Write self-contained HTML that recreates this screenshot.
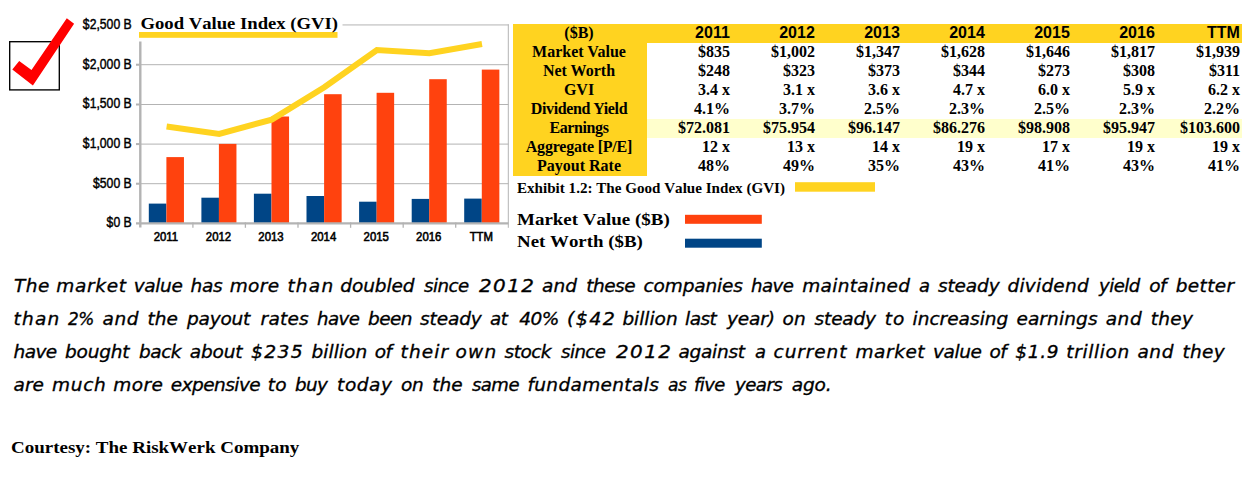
<!DOCTYPE html>
<html><head><meta charset="utf-8">
<style>
html,body{margin:0;padding:0;background:#fff;}
body{width:1251px;height:492px;position:relative;overflow:hidden;font-family:"Liberation Serif",serif;color:#000;}
.abs{position:absolute;white-space:nowrap;}
#chart{position:absolute;left:0;top:0;}
#chart text{font-family:"Liberation Sans",sans-serif;font-weight:normal;stroke:#000;stroke-width:0.45px;font-size:12px;fill:#000;}
table{position:absolute;left:513px;top:24px;border-collapse:collapse;table-layout:fixed;width:729px;font-family:"Liberation Serif",serif;font-weight:bold;font-size:16px;}
td{height:17.4px;padding:0 2px 1.6px 0;line-height:17.4px;text-align:right;overflow:hidden;white-space:nowrap;}
td.l{background:#ffd320;text-align:center;padding:0 2px 1.6px 0;}
tr.h td{background:#ffd320;font-family:"Liberation Sans",sans-serif;font-size:16px;padding-right:2.2px;}
tr.h td.l{font-family:"Liberation Serif",serif;padding-right:2px;}
tr.e td{background:#ffffcc;}
tr.e td.l{background:#ffd320;}
.hw{position:absolute;left:0;width:1251px;height:21px;font-family:"DejaVu Sans",sans-serif;font-style:oblique;font-size:18.5px;line-height:21px;-webkit-text-stroke:0.35px #000;}
.hw span{position:absolute;top:0;white-space:nowrap;transform-origin:0 0;}
</style></head><body>
<svg id="chart" width="700" height="260" viewBox="0 0 700 260">
  <!-- gridlines -->
  <g stroke="#b3b3b3" stroke-width="1" fill="none">
    <line x1="140" y1="24.95" x2="508.5" y2="24.95"/>
    <line x1="136" y1="64.7" x2="508.5" y2="64.7"/>
    <line x1="136" y1="104.5" x2="508.5" y2="104.5"/>
    <line x1="136" y1="144.1" x2="508.5" y2="144.1"/>
    <line x1="136" y1="183.7" x2="508.5" y2="183.7"/>
    <line x1="508.3" y1="24.2" x2="508.3" y2="227.8"/>
  </g>
  <!-- bars -->
  <g fill="#004586">
    <rect x="148.8" y="203.6" width="17.55" height="19.7"/>
    <rect x="201.4" y="197.7" width="17.55" height="25.6"/>
    <rect x="253.9" y="193.7" width="17.55" height="29.6"/>
    <rect x="306.5" y="196.0" width="17.55" height="27.3"/>
    <rect x="359.1" y="201.7" width="17.55" height="21.6"/>
    <rect x="411.7" y="198.9" width="17.55" height="24.4"/>
    <rect x="464.2" y="198.6" width="17.55" height="24.7"/>
  </g>
  <g fill="#ff420e">
    <rect x="166.4" y="157.1" width="17.55" height="66.2"/>
    <rect x="218.9" y="143.9" width="17.55" height="79.4"/>
    <rect x="271.5" y="116.5" width="17.55" height="106.8"/>
    <rect x="324.1" y="94.2" width="17.55" height="129.1"/>
    <rect x="376.6" y="92.8" width="17.55" height="130.5"/>
    <rect x="429.2" y="79.2" width="17.55" height="144.1"/>
    <rect x="481.8" y="69.6" width="17.55" height="153.7"/>
  </g>
  <!-- axes -->
  <g stroke="#b3b3b3" fill="none">
    <line x1="140.3" y1="24" x2="140.3" y2="227.5" stroke-width="2.4"/>
    <line x1="136" y1="223.4" x2="508.5" y2="223.4" stroke-width="2.4"/>
    <g stroke-width="1.3">
      <line x1="192.9" y1="222.4" x2="192.9" y2="227.8"/>
      <line x1="245.4" y1="222.4" x2="245.4" y2="227.8"/>
      <line x1="298.0" y1="222.4" x2="298.0" y2="227.8"/>
      <line x1="350.6" y1="222.4" x2="350.6" y2="227.8"/>
      <line x1="403.2" y1="222.4" x2="403.2" y2="227.8"/>
      <line x1="455.7" y1="222.4" x2="455.7" y2="227.8"/>
    </g>
    <g stroke-width="2">
      <line x1="136" y1="64.7" x2="140" y2="64.7"/>
      <line x1="136" y1="104.5" x2="140" y2="104.5"/>
      <line x1="136" y1="144.1" x2="140" y2="144.1"/>
      <line x1="136" y1="183.7" x2="140" y2="183.7"/>
    </g>
  </g>
  <!-- GVI line -->
  <polyline fill="none" stroke="#ffd320" stroke-width="6.1" stroke-linejoin="miter" points="166.6,126.6 219.2,134.0 271.7,119.6 324.3,87.3 376.9,50.0 429.4,53.3 482.0,44.0"/>
  <!-- title cover -->
  <rect x="138.5" y="8" width="204" height="33.5" fill="#fff"/>
  <rect x="139" y="32" width="198.5" height="5.8" fill="#ffd320"/>
  <text x="140.5" y="29.3" style="font-family:'Liberation Serif',serif;font-size:17.33px;font-kerning:none;font-weight:bold;stroke:none" textLength="197.5" lengthAdjust="spacingAndGlyphs">Good Value Index (GVI)</text>
  <!-- y labels -->
  <g text-anchor="end">
    <text transform="translate(131.7,29.0) scale(0.872,1)" style="font-size:14px">$2,500 B</text>
    <text transform="translate(131.7,68.8) scale(0.872,1)" style="font-size:14px">$2,000 B</text>
    <text transform="translate(131.7,108.4) scale(0.872,1)" style="font-size:14px">$1,500 B</text>
    <text transform="translate(131.7,148.1) scale(0.872,1)" style="font-size:14px">$1,000 B</text>
    <text transform="translate(131.7,187.8) scale(0.872,1)" style="font-size:14px">$500 B</text>
    <text transform="translate(131.7,227.4) scale(0.872,1)" style="font-size:14px">$0 B</text>
  </g>
  <g text-anchor="middle">
    <text transform="translate(165.9,241) scale(0.91,1)" style="font-size:12.5px;stroke-width:0.6px">2011</text>
    <text transform="translate(218.5,241) scale(0.91,1)" style="font-size:12.5px;stroke-width:0.6px">2012</text>
    <text transform="translate(271.0,241) scale(0.91,1)" style="font-size:12.5px;stroke-width:0.6px">2013</text>
    <text transform="translate(323.6,241) scale(0.91,1)" style="font-size:12.5px;stroke-width:0.6px">2014</text>
    <text transform="translate(376.2,241) scale(0.91,1)" style="font-size:12.5px;stroke-width:0.6px">2015</text>
    <text transform="translate(428.7,241) scale(0.91,1)" style="font-size:12.5px;stroke-width:0.6px">2016</text>
    <text transform="translate(481.3,241) scale(0.91,1)" style="font-size:12.5px;stroke-width:0.6px">TTM</text>
  </g>
  <!-- checkbox -->
  <rect x="9.7" y="41.7" width="49.6" height="48.2" fill="#fff" stroke="#000" stroke-width="1.35"/>
  <polygon fill="#ff0000" points="66.8,18.2 74.1,23.7 32.9,85.5 12.3,69.4 19.2,60.9 31.5,70.0"/>
</svg>
<svg class="abs" style="left:680px;top:210px" width="100" height="45"><rect x="5" y="4.8" width="76.8" height="9" fill="#ff420e"/><rect x="5" y="28.7" width="76.8" height="9" fill="#004586"/></svg>
<svg class="abs" style="left:790px;top:178px" width="100" height="20"><rect x="5" y="4.2" width="80" height="9.5" fill="#ffd320"/></svg>

<table>
<colgroup><col style="width:134px"><col style="width:85px"><col style="width:85px"><col style="width:85px"><col style="width:85px"><col style="width:85px"><col style="width:85px"><col style="width:85px"></colgroup>
<tr class="h"><td class="l">($B)</td><td>2011</td><td>2012</td><td>2013</td><td>2014</td><td>2015</td><td>2016</td><td>TTM</td></tr>
<tr><td class="l">Market Value</td><td>$835</td><td>$1,002</td><td>$1,347</td><td>$1,628</td><td>$1,646</td><td>$1,817</td><td>$1,939</td></tr>
<tr><td class="l">Net Worth</td><td>$248</td><td>$323</td><td>$373</td><td>$344</td><td>$273</td><td>$308</td><td>$311</td></tr>
<tr><td class="l">GVI</td><td>3.4 x</td><td>3.1 x</td><td>3.6 x</td><td>4.7 x</td><td>6.0 x</td><td>5.9 x</td><td>6.2 x</td></tr>
<tr><td class="l" style="letter-spacing:-0.36px">Dividend Yield</td><td>4.1%</td><td>3.7%</td><td>2.5%</td><td>2.3%</td><td>2.5%</td><td>2.3%</td><td>2.2%</td></tr>
<tr class="e"><td class="l" style="letter-spacing:-0.4px">Earnings</td><td>$72.081</td><td>$75.954</td><td>$96.147</td><td>$86.276</td><td>$98.908</td><td>$95.947</td><td>$103.600</td></tr>
<tr><td class="l" style="letter-spacing:-0.2px">Aggregate [P/E]</td><td>12 x</td><td>13 x</td><td>14 x</td><td>19 x</td><td>17 x</td><td>19 x</td><td>19 x</td></tr>
<tr><td class="l">Payout Rate</td><td>48%</td><td>49%</td><td>35%</td><td>43%</td><td>41%</td><td>43%</td><td>41%</td></tr>
</table>

<div class="abs" id="exh" style="left:516.8px;top:177.6px;font-weight:bold;font-size:14.1px;line-height:20px;font-kerning:none;transform:scaleX(1.0711);transform-origin:0 0;">Exhibit 1.2: The Good Value Index (GVI)</div>
<div class="abs" id="lg1" style="left:516.9px;top:208.4px;font-weight:bold;font-size:17.33px;line-height:24px;font-kerning:none;transform:scaleX(1.0948);transform-origin:0 0;">Market Value ($B)</div>
<div class="abs" id="lg2" style="left:516.9px;top:230.0px;font-weight:bold;font-size:17.33px;line-height:24px;font-kerning:none;transform:scaleX(1.09);transform-origin:0 0;">Net Worth ($B)</div>

<div class="hw" id="p1" style="top:275.4px;"><span style="left:14.1px;letter-spacing:0.40px">The</span> <span style="left:56.3px;letter-spacing:0.70px">market</span> <span style="left:133.8px;letter-spacing:-0.38px">value</span> <span style="left:190.6px;letter-spacing:-0.30px">has</span> <span style="left:229.7px;letter-spacing:0.37px">more</span> <span style="left:287.4px;letter-spacing:1.23px">than</span> <span style="left:340.3px;letter-spacing:-0.08px">doubled</span> <span style="left:424.0px;letter-spacing:-0.55px;transform:scaleX(0.983)">since</span> <span style="left:478.7px;letter-spacing:1.30px;transform:scaleX(1.076)">2012</span> <span style="left:542.0px;letter-spacing:0.15px">and</span> <span style="left:586.2px;letter-spacing:-0.48px">these</span> <span style="left:643.6px;letter-spacing:-0.16px">companies</span> <span style="left:750.6px;letter-spacing:-0.55px;transform:scaleX(0.980)">have</span> <span style="left:802.2px;letter-spacing:0.34px">maintained</span> <span style="left:919.1px;transform:scaleX(0.967)">a</span> <span style="left:938.0px;letter-spacing:-0.14px">steady</span> <span style="left:1007.5px;letter-spacing:0.23px">dividend</span> <span style="left:1099.3px;letter-spacing:-0.55px;transform:scaleX(0.977)">yield</span> <span style="left:1149.3px;letter-spacing:-0.50px">of</span> <span style="left:1175.8px;letter-spacing:0.32px">better</span></div>
<div class="hw" id="p2" style="top:308.1px;"><span style="left:13.5px;letter-spacing:1.20px">than</span> <span style="left:67.9px;letter-spacing:-0.55px;transform:scaleX(0.914)">2%</span> <span style="left:102.6px;letter-spacing:0.55px">and</span> <span style="left:147.5px;letter-spacing:0.05px">the</span> <span style="left:187.1px;letter-spacing:-0.22px">payout</span> <span style="left:260.6px;letter-spacing:0.22px">rates</span> <span style="left:316.8px;letter-spacing:-0.55px;transform:scaleX(0.980)">have</span> <span style="left:368.0px;letter-spacing:-0.55px">been</span> <span style="left:420.0px;letter-spacing:-0.12px">steady</span> <span style="left:489.6px;letter-spacing:-0.55px;transform:scaleX(0.986)">at</span> <span style="left:519.2px;letter-spacing:-0.55px">40%</span> <span style="left:567.0px;letter-spacing:1.30px;transform:scaleX(1.029)">($42</span> <span style="left:622.4px;letter-spacing:-0.02px">billion</span> <span style="left:685.1px;letter-spacing:-0.55px">last</span> <span style="left:727.0px;letter-spacing:-0.12px">year)</span> <span style="left:782.6px;letter-spacing:0.20px">on</span> <span style="left:814.6px;letter-spacing:-0.18px">steady</span> <span style="left:884.7px;letter-spacing:1.00px">to</span> <span style="left:912.5px;letter-spacing:0.02px">increasing</span> <span style="left:1016.4px;letter-spacing:0.13px">earnings</span> <span style="left:1105.7px;letter-spacing:0.60px">and</span> <span style="left:1150.7px;letter-spacing:0.30px">they</span></div>
<div class="hw" id="p3" style="top:340.8px;"><span style="left:13.5px;letter-spacing:-0.55px">have</span> <span style="left:65.0px;letter-spacing:-0.20px">bought</span> <span style="left:139.0px;letter-spacing:-0.47px">back</span> <span style="left:189.8px;letter-spacing:-0.18px">about</span> <span style="left:251.4px;letter-spacing:1.30px;transform:scaleX(1.014)">$235</span> <span style="left:311.4px;letter-spacing:0.08px">billion</span> <span style="left:374.7px;letter-spacing:-0.50px">of</span> <span style="left:400.6px;letter-spacing:1.12px">their</span> <span style="left:455.5px;letter-spacing:1.30px">own</span> <span style="left:504.6px;letter-spacing:-0.55px">stock</span> <span style="left:561.3px;letter-spacing:-0.55px;transform:scaleX(0.980)">since</span> <span style="left:616.0px;letter-spacing:1.30px;transform:scaleX(1.076)">2012</span> <span style="left:678.5px;letter-spacing:-0.28px">against</span> <span style="left:755.1px;transform:scaleX(0.967)">a</span> <span style="left:773.6px;letter-spacing:0.90px">current</span> <span style="left:855.5px;letter-spacing:0.56px">market</span> <span style="left:933.1px;letter-spacing:-0.43px">value</span> <span style="left:989.5px;letter-spacing:-0.55px">of</span> <span style="left:1015.3px;letter-spacing:0.70px">$1.9</span> <span style="left:1066.3px;letter-spacing:0.63px">trillion</span> <span style="left:1137.4px;letter-spacing:0.60px">and</span> <span style="left:1182.4px;letter-spacing:0.30px">they</span></div>
<div class="hw" id="p4" style="top:373.5px;"><span style="left:13.5px;letter-spacing:0.05px">are</span> <span style="left:51.9px;letter-spacing:0.77px">much</span> <span style="left:113.2px;letter-spacing:0.43px">more</span> <span style="left:170.8px;letter-spacing:-0.55px">expensive</span> <span style="left:267.8px;letter-spacing:0.20px">to</span> <span style="left:295.4px;letter-spacing:-0.55px;transform:scaleX(0.988)">buy</span> <span style="left:337.1px;letter-spacing:0.55px">today</span> <span style="left:401.1px;letter-spacing:-0.40px">on</span> <span style="left:432.3px">the</span> <span style="left:472.1px;letter-spacing:-0.55px;transform:scaleX(0.974)">same</span> <span style="left:527.4px;letter-spacing:0.35px">fundamentals</span> <span style="left:667.5px;letter-spacing:-0.55px;transform:scaleX(0.920)">as</span> <span style="left:693.8px;letter-spacing:-0.55px;transform:scaleX(0.970)">five</span> <span style="left:735.4px;letter-spacing:-0.55px;transform:scaleX(0.982)">years</span> <span style="left:791.8px;letter-spacing:-0.17px">ago.</span></div>

<div class="abs" id="court" style="left:11.3px;top:436.85px;font-weight:bold;font-size:17.33px;line-height:22px;font-kerning:none;transform:scaleX(1.0949);transform-origin:0 0;">Courtesy: The RiskWerk Company</div>
</body></html>
